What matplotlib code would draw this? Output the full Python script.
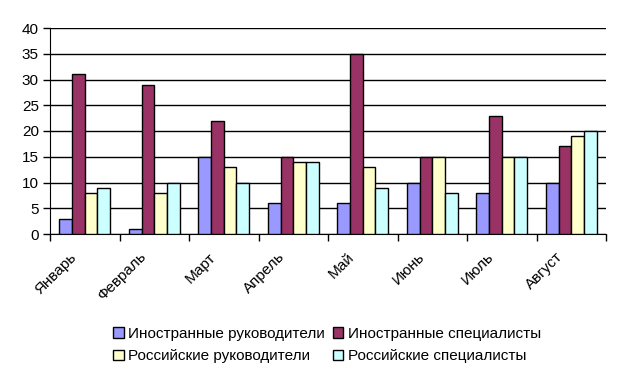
import matplotlib
matplotlib.use("Agg")
import matplotlib.pyplot as plt
import numpy as np

months = ["Январь", "Февраль", "Март", "Апрель", "Май", "Июнь", "Июль", "Август"]
series_names = ["Иностранные руководители", "Иностранные специалисты",
                "Российские руководители", "Российские специалисты"]
foreign_managers = [3, 1, 15, 6, 6, 10, 8, 10]
foreign_specialists = [31, 29, 22, 15, 35, 15, 23, 17]
russian_managers = [8, 8, 13, 14, 13, 15, 15, 19]
russian_specialists = [9, 10, 10, 14, 9, 8, 15, 20]
colors = ["#9999FF", "#993366", "#FFFFCC", "#CCFFFF"]

plt.rcParams['font.family'] = ['Liberation Sans', 'DejaVu Sans']
fig = plt.figure(figsize=(6.22, 3.76), dpi=100)
ax = fig.add_axes([50/622, 1-234/376, 556/622, 206/376])

data = [foreign_managers, foreign_specialists, russian_managers, russian_specialists]
x = np.arange(len(months))
bw = 1 / 5.5
for i, (vals, c, name) in enumerate(zip(data, colors, series_names)):
    ax.bar(x - 1.5*bw + i*bw, vals, width=bw, color=c, edgecolor="black",
           linewidth=1, label=name, zorder=3)

ax.set_xlim(-0.5, len(months) - 0.5)
ax.set_ylim(0, 40)
ax.set_yticks(np.arange(0, 41, 5))
ax.yaxis.grid(True, color="black", linewidth=1, zorder=0)
ax.set_axisbelow(True)
for s in ["top", "right"]:
    ax.spines[s].set_visible(False)
ax.spines["left"].set_color("black")
ax.spines["bottom"].set_color("black")

ax.set_xticks(x - 0.15)
ax.set_xticklabels(months, rotation=45, ha="right", va="center",
                   rotation_mode="anchor", fontsize=11)
ax.set_xticks(np.arange(-0.5, len(months) + 0.5, 1), minor=True)
ax.tick_params(axis="x", which="major", length=0, pad=15)
ax.tick_params(axis="x", which="minor", length=5, direction="out", width=1)
ax.tick_params(axis="y", length=5, width=1, labelsize=11, pad=3)

handles, labels = ax.get_legend_handles_labels()
order = [0, 2, 1, 3]
fig.legend([handles[i] for i in order], [labels[i] for i in order], ncol=2,
           loc="center", bbox_to_anchor=(327/622, 1-345/376),
           frameon=False, fontsize=11, handlelength=0.7, handleheight=0.7,
           handletextpad=0.3, columnspacing=0.5, labelspacing=0.55)

fig.savefig("out.png", dpi=100)
